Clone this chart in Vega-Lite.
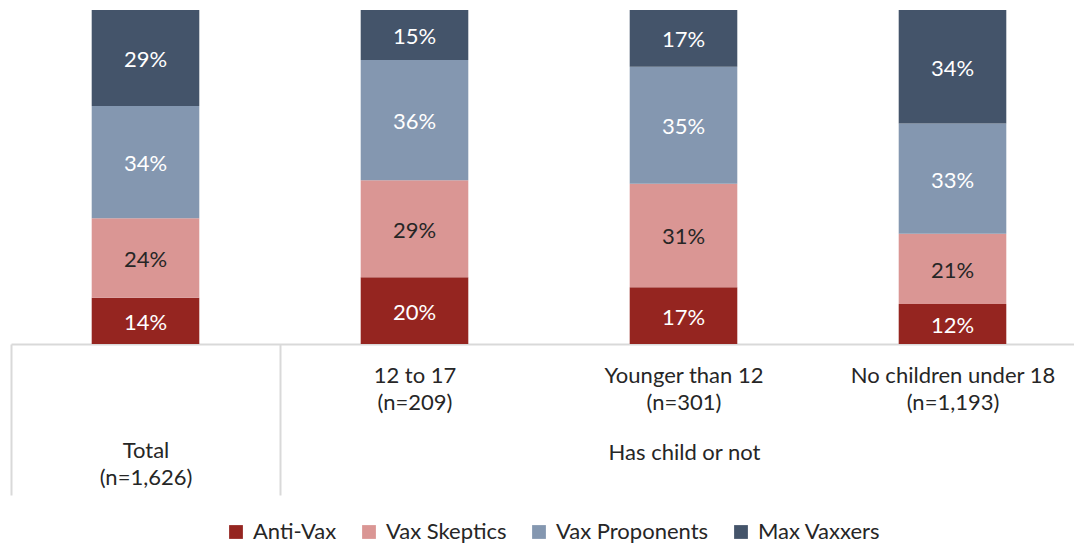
{
  "$schema": "https://vega.github.io/schema/vega-lite/v6.json",
  "width": 1076,
  "height": 334,
  "padding": {"left": 10, "top": 10, "right": 0, "bottom": 0},
  "config": {
    "view": {"stroke": null},
    "font": "Lato",
    "text": {"font": "Lato"}
  },
  "data": {
    "values": [
      {"group": "Total|(n=1,626)", "segment": "Anti-Vax", "k": 1, "value": 14},
      {"group": "Total|(n=1,626)", "segment": "Vax Skeptics", "k": 2, "value": 24},
      {"group": "Total|(n=1,626)", "segment": "Vax Proponents", "k": 3, "value": 34},
      {"group": "Total|(n=1,626)", "segment": "Max Vaxxers", "k": 4, "value": 29},
      {"group": "12 to 17|(n=209)", "segment": "Anti-Vax", "k": 1, "value": 20},
      {"group": "12 to 17|(n=209)", "segment": "Vax Skeptics", "k": 2, "value": 29},
      {"group": "12 to 17|(n=209)", "segment": "Vax Proponents", "k": 3, "value": 36},
      {"group": "12 to 17|(n=209)", "segment": "Max Vaxxers", "k": 4, "value": 15},
      {"group": "Younger than 12|(n=301)", "segment": "Anti-Vax", "k": 1, "value": 17},
      {"group": "Younger than 12|(n=301)", "segment": "Vax Skeptics", "k": 2, "value": 31},
      {"group": "Younger than 12|(n=301)", "segment": "Vax Proponents", "k": 3, "value": 35},
      {"group": "Younger than 12|(n=301)", "segment": "Max Vaxxers", "k": 4, "value": 17},
      {"group": "No children under 18|(n=1,193)", "segment": "Anti-Vax", "k": 1, "value": 12},
      {"group": "No children under 18|(n=1,193)", "segment": "Vax Skeptics", "k": 2, "value": 21},
      {"group": "No children under 18|(n=1,193)", "segment": "Vax Proponents", "k": 3, "value": 33},
      {"group": "No children under 18|(n=1,193)", "segment": "Max Vaxxers", "k": 4, "value": 34}
    ]
  },
  "encoding": {
    "x": {
      "field": "group",
      "type": "nominal",
      "sort": null,
      "scale": {"paddingInner": 0, "paddingOuter": 0},
      "axis": {
        "title": "Has child or not",
        "titleX": 673,
        "titleY": 108,
        "titleAlign": "center",
        "titleBaseline": "middle",
        "titleFont": "Lato",
        "titleFontSize": 22,
        "titleFontWeight": "normal",
        "titleColor": "#262626",
        "domainColor": "#d9d9d9",
        "domainWidth": 2,
        "tickBand": "extent",
        "tickSize": 151,
        "tickWidth": 2,
        "tickColor": {"condition": {"test": "datum.value !== '12 to 17|(n=209)' && datum.value !== 'Younger than 12|(n=301)' && datum.value !== 'No children under 18|(n=1,193)'", "value": "#d9d9d9"}, "value": "transparent"},
        "labelAngle": 0,
        "labelPadding": {"condition": {"test": "datum.value === 'Total|(n=1,626)'", "value": -55}, "value": -130},
        "labelFont": "Lato",
        "labelFontSize": 22,
        "labelColor": "#262626",
        "labelLineHeight": 27,
        "labelBaseline": "top",
        "labelOverlap": false,
        "labelFlush": false,
        "labelLimit": 400,
        "labelExpr": "isString(datum.value) ? split(datum.value, '|') : ''"
      }
    },
    "y": {
      "field": "value",
      "type": "quantitative",
      "stack": "normalize",
      "axis": null
    },
    "order": {"field": "k", "type": "quantitative", "sort": "ascending"}
  },
  "layer": [
    {
      "mark": {"type": "bar", "width": {"band": 0.4}},
      "encoding": {
        "color": {
          "field": "segment",
          "type": "nominal",
          "sort": ["Anti-Vax", "Vax Skeptics", "Vax Proponents", "Max Vaxxers"],
          "scale": {
            "domain": ["Anti-Vax", "Vax Skeptics", "Vax Proponents", "Max Vaxxers"],
            "range": ["#952520", "#DA9694", "#8497B0", "#44546A"]
          },
          "legend": {
            "title": null,
            "orient": "none",
            "legendX": 214,
            "legendY": 511,
            "direction": "horizontal",
            "gridAlign": "none",
            "symbolType": "square",
            "symbolSize": 190,
            "symbolStrokeWidth": 0,
            "labelFont": "Lato",
            "labelFontSize": 22,
            "labelColor": "#262626",
            "labelOffset": 6,
            "columnPadding": 21,
            "symbolOffset": 0
          }
        }
      }
    },
    {
      "mark": {"type": "text", "fontSize": 22, "font": "Lato", "dy": 2, "text": {"expr": "datum.value + '%'"}},
      "encoding": {
        "y": {
          "field": "value",
          "type": "quantitative",
          "stack": "normalize",
          "bandPosition": 0.5
        },
        "color": {
          "condition": {"test": "datum.segment === 'Vax Skeptics'", "value": "#262626"},
          "value": "#ffffff"
        }
      }
    }
  ]
}
